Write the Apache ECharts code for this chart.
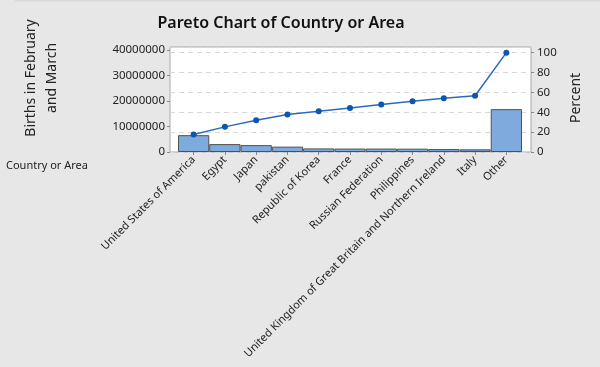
<!DOCTYPE html>
<html>
<head>
<meta charset="utf-8">
<script src="https://cdn.jsdelivr.net/npm/echarts@6/dist/echarts.min.js"></script>
<style>
html,body{margin:0;padding:0;background:#e7e7e7;}
#chart{width:600px;height:367px;}
</style>
</head>
<body>
<div id="chart"></div>
<script>
const categories = ["United States of America","Egypt","Japan","pakistan","Republic of Korea","France","Russian Federation","Philippines","United Kingdom of Great Britain and Northern Ireland","Italy","Other"];
const births = [6600000, 3100000, 2700000, 2100000, 1400000, 1350000, 1350000, 1300000, 1150000, 1050000, 16800000];
const cumulativePercent = [17.6, 25.3, 32.0, 37.8, 41.1, 44.4, 47.9, 51.2, 54.2, 56.6, 100];
const countTicks = [0, 10000000, 20000000, 30000000, 40000000];
const percentTicks = [0, 20, 40, 60, 80, 100];

const FONT = "Noto Sans";
const countMax = 41180000;
const pctMax = 105.7;

const chart = echarts.init(document.getElementById('chart'), null, {renderer: 'canvas'});
chart.setOption({
  backgroundColor: '#e7e7e7',
  animation: false,
  textStyle: {fontFamily: FONT},
  grid: [
    {left: 170, right: 69, top: 47, bottom: 215, show: true, backgroundColor: '#ffffff', borderColor: '#a8a8a8', borderWidth: 1},
    {left: 178, right: 78, top: 47, bottom: 215}
  ],
  xAxis: [
    {type: 'value', gridIndex: 0, show: false, min: 0, max: 1},
    {type: 'category', gridIndex: 1, data: categories,
     axisLine: {show: false},
     axisTick: {show: true, alignWithLabel: true, length: 3, lineStyle: {color: '#888'}},
     axisLabel: {rotate: 45, margin: 6, fontSize: 11, color: '#222', fontFamily: FONT, interval: 0}}
  ],
  yAxis: [
    {type: 'value', gridIndex: 0, position: 'left', min: 0, max: countMax, interval: 10000000,
     axisLine: {show: false},
     axisTick: {show: true, length: 3, lineStyle: {color: '#888'}},
     axisLabel: {showMaxLabel: false, fontSize: 11.5, color: '#222', margin: 5, fontFamily: FONT,
                 formatter: v => countTicks.includes(v) ? String(v) : ''},
     splitLine: {show: false}},
    {type: 'value', gridIndex: 0, position: 'right', min: 0, max: pctMax, interval: 20,
     axisLine: {show: false},
     axisTick: {show: true, length: 3, lineStyle: {color: '#888'}},
     axisLabel: {showMaxLabel: false, fontSize: 11.5, color: '#222', margin: 6, fontFamily: FONT,
                 formatter: v => percentTicks.includes(v) ? String(v) : ''},
     splitLine: {show: true, lineStyle: {color: '#d8d8d8', type: [5, 4], width: 1}}},
    {type: 'value', gridIndex: 1, min: 0, max: countMax, show: false, splitLine: {show: false}},
    {type: 'value', gridIndex: 1, min: 0, max: pctMax, show: false, splitLine: {show: false}}
  ],
  series: [
    {type: 'bar', xAxisIndex: 1, yAxisIndex: 2, data: births, barWidth: '100%', barCategoryGap: '0%',
     itemStyle: {color: '#7eaadd', borderColor: '#505050', borderWidth: 1}},
    {type: 'line', xAxisIndex: 1, yAxisIndex: 3, data: cumulativePercent, symbol: 'circle', symbolSize: 6,
     lineStyle: {color: '#2a6bbf', width: 1.5}, itemStyle: {color: '#0d56ad'}}
  ],
  graphic: [
    {type: 'rect', shape: {x: 15, y: 0, width: 585, height: 1.5}, style: {fill: '#d9d9d9'}},
    {type: 'text', x: 281, y: 23, style: {text: 'Pareto Chart of Country or Area', font: '600 16px "Noto Sans"', fill: '#111', textAlign: 'center', textVerticalAlign: 'middle'}},
    {type: 'text', x: 31, y: 78, rotation: Math.PI / 2, style: {text: 'Births in February', font: '14px "Noto Sans"', fill: '#222', textAlign: 'center', textVerticalAlign: 'middle'}},
    {type: 'text', x: 52, y: 78, rotation: Math.PI / 2, style: {text: 'and March', font: '14px "Noto Sans"', fill: '#222', textAlign: 'center', textVerticalAlign: 'middle'}},
    {type: 'text', x: 576, y: 98, rotation: Math.PI / 2, style: {text: 'Percent', font: '14px "Noto Sans"', fill: '#222', textAlign: 'center', textVerticalAlign: 'middle'}},
    {type: 'text', x: 6, y: 166, style: {text: 'Country or Area', font: '11px "Noto Sans"', fill: '#222', textAlign: 'left', textVerticalAlign: 'middle'}}
  ]
});
</script>
</body>
</html>
